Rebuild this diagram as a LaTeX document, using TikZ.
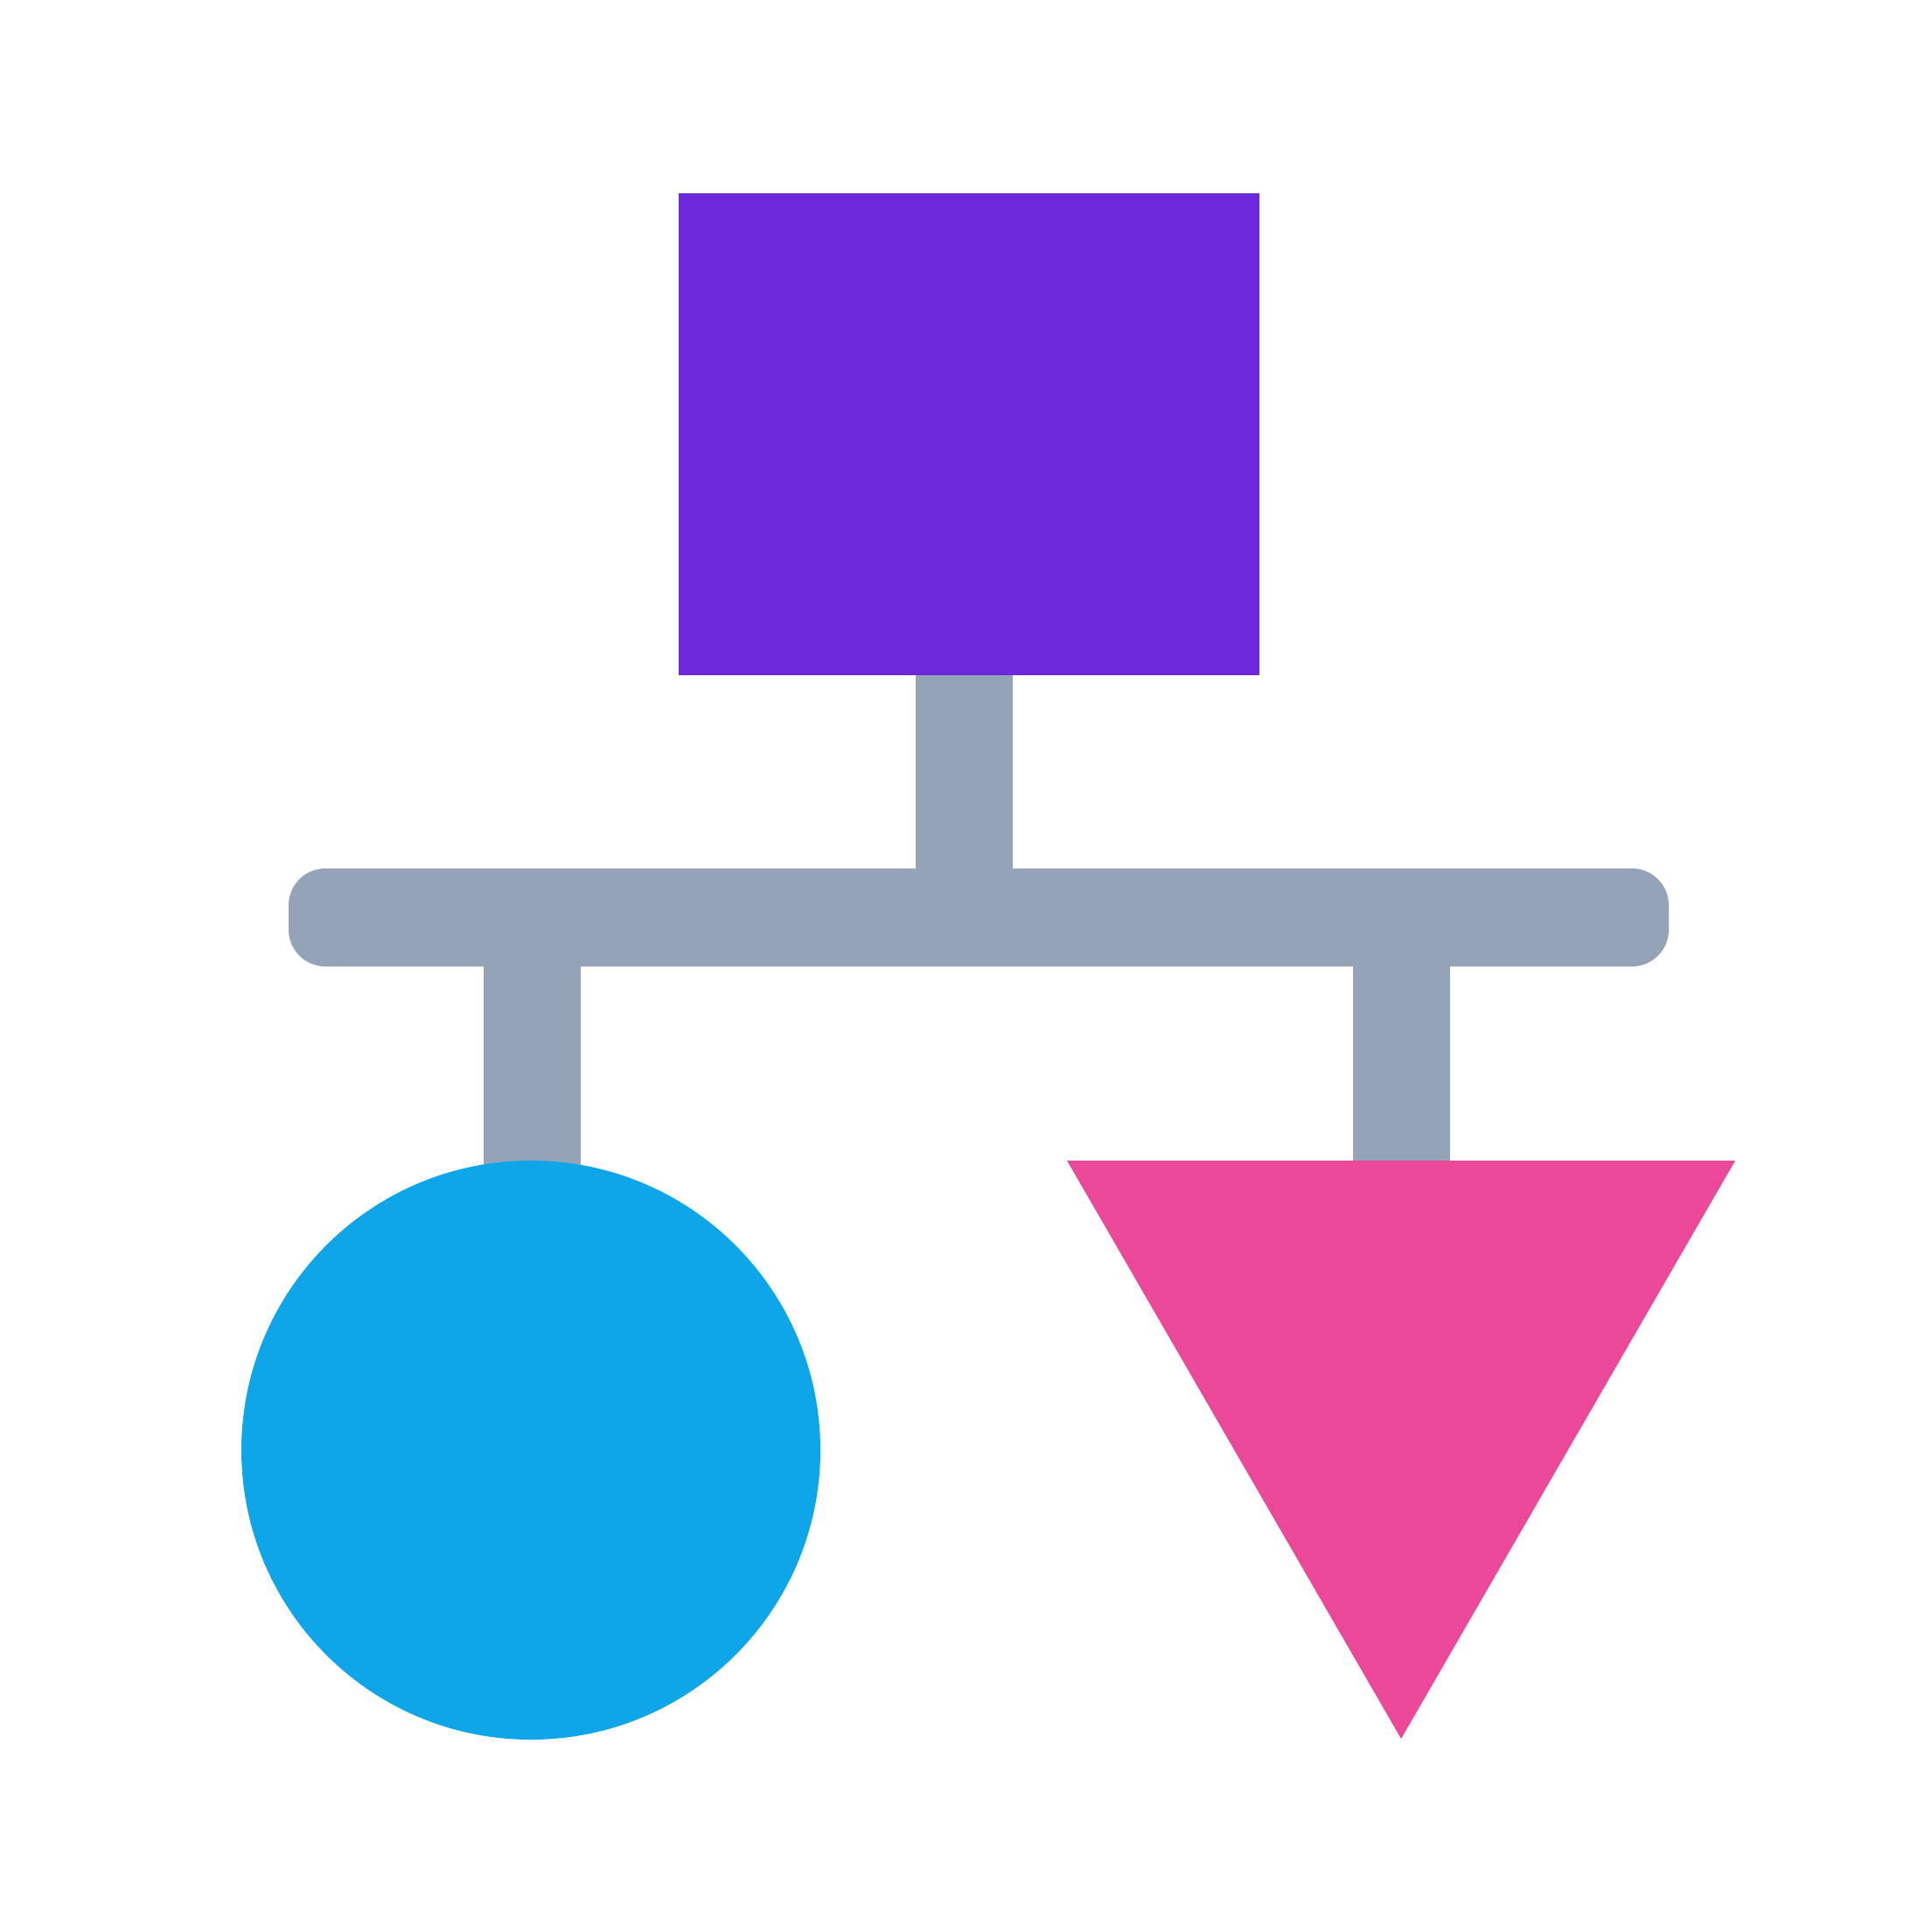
\documentclass[tikz,border=0pt]{standalone}
\usetikzlibrary{positioning}
\definecolor{boxviolet}{HTML}{6D28D9}
\definecolor{linkgray}{HTML}{94A3B8}
\definecolor{ballblue}{HTML}{0EA5E9}
\definecolor{conepink}{HTML}{EC4899}
\tikzset{
  stem/.style={linkgray,line width=1.11cm},
  topbox/.style={fill=boxviolet,minimum width=6.64cm,minimum height=5.51cm,inner sep=0pt},
  ball/.style={circle,fill=ballblue,minimum size=6.62cm,inner sep=0pt}
}
\begin{document}
\begin{tikzpicture}
\useasboundingbox (0,0) rectangle (22.08,-22.09);

\coordinate (barnw) at (3.30,-9.93);
\coordinate (barse) at (19.08,-11.05);
\coordinate (tl) at (12.20,-13.27);
\coordinate (tr) at (19.84,-13.27);
\coordinate (tb) at (16.02,-19.88);
\coordinate (rtop) at (16.02,-10.5);
\coordinate (ltop) at (6.08,-10.5);
\coordinate (ctr) at (11.025,-10.5);
\coordinate (head) at (11.08,-4.965);
\coordinate (left) at (6.07,-16.58);

% connectors
\draw[stem] (ctr) -- (ctr |- head);
\draw[stem] (ltop) -- (ltop |- left);
\draw[stem] (rtop) -- (rtop |- tl);
\fill[linkgray,rounded corners=0.42cm] (barnw) rectangle (barse);

\node[topbox] (box) at (head) {};
\node[ball] (circ) at (left) {};
\fill[conepink] (tl) -- (tr) -- (tb) -- cycle;
\end{tikzpicture}
\end{document}
